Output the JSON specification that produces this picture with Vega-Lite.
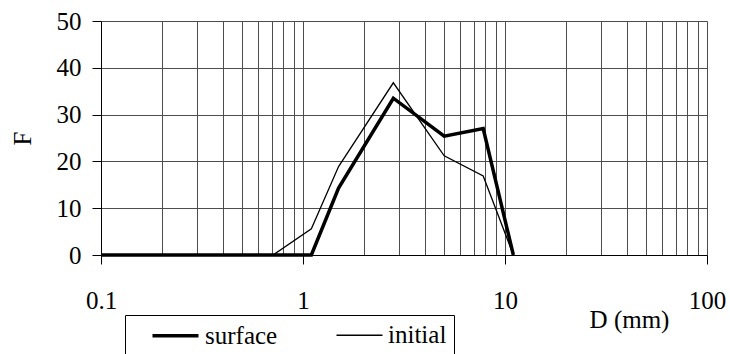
{
  "$schema": "https://vega.github.io/schema/vega-lite/v6.json",
  "width": 606,
  "height": 234,
  "autosize": {"type": "none"},
  "padding": {"left": 101, "top": 21, "right": 23, "bottom": 99},
  "background": "white",
  "config": {
    "view": {"stroke": null},
    "font": "Liberation Serif, Times New Roman, DejaVu Serif, serif",
    "axis": {
      "labelFont": "Liberation Serif, Times New Roman, DejaVu Serif, serif",
      "titleFont": "Liberation Serif, Times New Roman, DejaVu Serif, serif",
      "labelFontSize": 25,
      "titleFontSize": 25,
      "titleFontWeight": "normal",
      "labelColor": "black",
      "titleColor": "black",
      "domainColor": "black",
      "domainWidth": 1,
      "tickColor": "black",
      "tickSize": 9,
      "gridColor": "#4d4d4d",
      "gridWidth": 1
    },
    "legend": {
      "labelFont": "Liberation Serif, Times New Roman, DejaVu Serif, serif",
      "labelFontSize": 25,
      "labelColor": "black"
    }
  },
  "data": {
    "values": [
      {"D": 0.1, "F": 0, "series": "surface"},
      {"D": 1.1, "F": 0, "series": "surface"},
      {"D": 1.5, "F": 14.3, "series": "surface"},
      {"D": 2.8, "F": 33.5, "series": "surface"},
      {"D": 5, "F": 25.4, "series": "surface"},
      {"D": 7.8, "F": 27, "series": "surface"},
      {"D": 11, "F": 0, "series": "surface"},
      {"D": 0.1, "F": 0, "series": "initial"},
      {"D": 0.71, "F": 0, "series": "initial"},
      {"D": 1.1, "F": 5.6, "series": "initial"},
      {"D": 1.5, "F": 18.9, "series": "initial"},
      {"D": 2.8, "F": 36.8, "series": "initial"},
      {"D": 5, "F": 21.2, "series": "initial"},
      {"D": 7.8, "F": 16.9, "series": "initial"},
      {"D": 11, "F": 0, "series": "initial"}
    ]
  },
  "mark": {"type": "line", "strokeJoin": "miter", "interpolate": "linear"},
  "encoding": {
    "x": {
      "field": "D",
      "type": "quantitative",
      "scale": {"type": "log", "domain": [0.1, 100], "nice": false},
      "axis": {
        "title": "D (mm)",
        "titleX": 528,
        "titleY": 72,
        "titleAlign": "center",
        "titleBaseline": "alphabetic",
        "values": [0.1, 0.2, 0.3, 0.4, 0.5, 0.6, 0.7, 0.8, 0.9, 1, 2, 3, 4, 5, 6, 7, 8, 9, 10, 20, 30, 40, 50, 60, 70, 80, 90, 100],
        "labelExpr": "abs(log(datum.value)/LN10 - round(log(datum.value)/LN10)) < 1e-6 ? datum.label : ''",
        "tickOpacity": {
          "condition": {"test": "abs(log(datum.value)/LN10 - round(log(datum.value)/LN10)) < 1e-6", "value": 1},
          "value": 0
        },
        "format": "~g",
        "labelPadding": 24,
        "labelFlush": false,
        "labelOverlap": false,
        "grid": true
      }
    },
    "y": {
      "field": "F",
      "type": "quantitative",
      "scale": {"domain": [0, 50], "nice": false},
      "axis": {
        "title": "F",
        "titleAngle": -90,
        "titleX": -71,
        "titleY": 117,
        "titleAlign": "center",
        "titleBaseline": "alphabetic",
        "values": [0, 10, 20, 30, 40, 50],
        "labelPadding": 11,
        "grid": true
      }
    },
    "stroke": {
      "field": "series",
      "type": "nominal",
      "scale": {"domain": ["surface", "initial"], "range": ["black", "black"]},
      "legend": {
        "title": null,
        "orient": "none",
        "legendX": 24,
        "legendY": 294,
        "direction": "horizontal",
        "symbolType": "M-2,0H2",
        "symbolSize": 529,
        "symbolOffset": 30,
        "labelOffset": 16,
        "columnPadding": 39,
        "padding": 7,
        "fillColor": "white",
        "strokeColor": "black",
        "labelExpr": "datum.label == 'initial' ? datum.label + '\u00a0\u00a0' : datum.label"
      }
    },
    "strokeWidth": {
      "field": "series",
      "type": "nominal",
      "scale": {"domain": ["surface", "initial"], "range": [3.5, 1.3]},
      "legend": {
        "title": null,
        "orient": "none",
        "legendX": 24,
        "legendY": 294,
        "direction": "horizontal",
        "symbolType": "M-2,0H2",
        "symbolSize": 529,
        "symbolOffset": 30,
        "labelOffset": 16,
        "columnPadding": 39,
        "padding": 7,
        "fillColor": "white",
        "strokeColor": "black",
        "labelExpr": "datum.label == 'initial' ? datum.label + '\u00a0\u00a0' : datum.label"
      }
    }
  }
}
